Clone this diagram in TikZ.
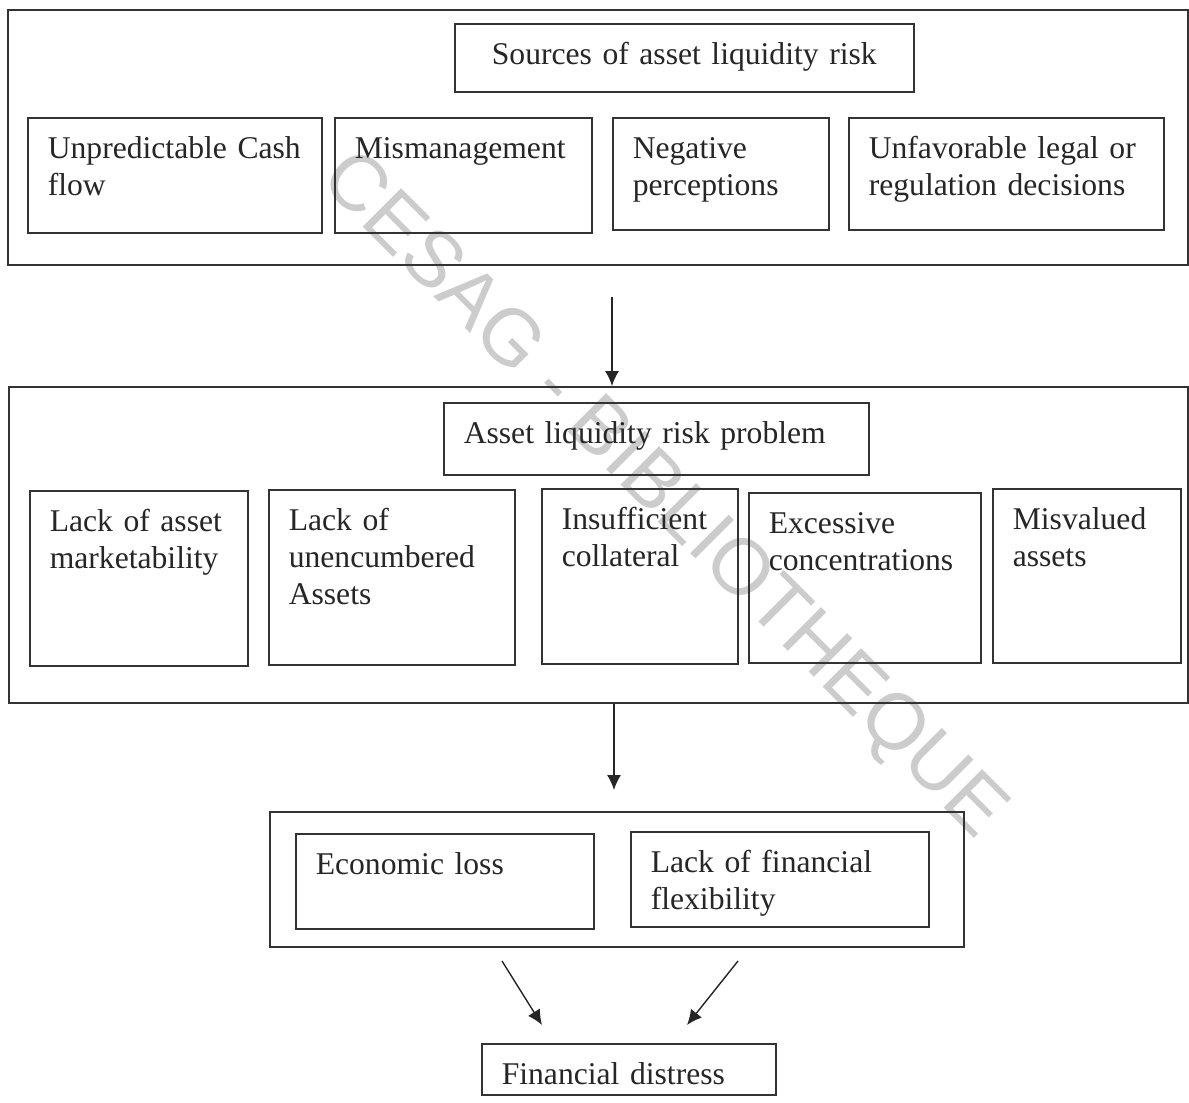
\documentclass[tikz,border=0pt]{standalone}
\usepackage{fontspec}
\setmainfont{Liberation Serif}
\newfontfamily\stampfont{Liberation Sans}
\usetikzlibrary{arrows.meta}

\tikzset{
  block/.style={draw=black!80, line width=0.9pt, anchor=north west, inner sep=0pt},
  cell/.style 2 args={draw=black!80, line width=0.9pt, anchor=north west, align=left,
    inner xsep=0.4cm, inner ysep=0.35cm, text height=0.47cm, text width=#1cm, text depth=#2cm},
  arr/.style={draw=black!85, line width=0.8pt, -{Latex[length=3mm,width=2.8mm]}},
  stamp/.style={text=black!20, rotate=-45, font=\stampfont\fontsize{45}{45}\selectfont}
}

\begin{document}
\begin{tikzpicture}[font=\fontsize{18}{21}\selectfont, text=black!85]
\fill[white] (0,0) rectangle (23.78,-22.06);
\useasboundingbox (0,0) rectangle (23.78,-22.06);

% watermark
\node[stamp] (wm) at (13.24,-9.94) {CESAG - BIBLIOTHEQUE};

% outer frames
\node[block, minimum width=23.60cm, minimum height=5.10cm] (src) at (0.14,-0.18) {};
\node[block, minimum width=23.58cm, minimum height=6.32cm] (prob) at (0.16,-7.72) {};
\node[block, minimum width=13.88cm, minimum height=2.70cm] (eff) at (5.38,-16.22) {};

% titles
\node[cell={8.38}{0.19}, align=center] (srcT) at (9.08,-0.46) {Sources of asset liquidity risk};
\node[cell={7.70}{0.27}] (probT) at (8.86,-8.04) {Asset liquidity risk problem};

\foreach \x/\y/\w/\d/\name/\lab in {
  0.54/-2.34/5.08/1.13/cash/{Unpredictable Cash\\flow},
  6.68/-2.34/4.34/1.13/mgmt/{Mismanagement},
  12.24/-2.34/3.52/1.07/perc/{Negative\\perceptions},
  16.96/-2.34/5.50/1.07/legal/{Unfavorable legal or\\regulation decisions}} {
\node[cell={\w}{\d}] (\name) at (\x,\y) {\lab};
}

\foreach \x/\y/\w/\d/\name/\lab in {
  0.58/-9.80/3.56/2.33/market/{Lack of asset\\marketability},
  5.36/-9.78/4.12/2.33/unenc/{Lack of\\unencumbered\\Assets},
  10.82/-9.76/3.12/2.33/collat/{Insufficient\\collateral},
  14.96/-9.84/3.84/2.23/concen/{Excessive\\concentrations},
  19.84/-9.76/2.96/2.31/misval/{Misvalued\\assets}} {
\node[cell={\w}{\d}] (\name) at (\x,\y) {\lab};
}

\foreach \x/\y/\name/\lab in {5.90/-16.66/loss/{Economic loss}, 12.60/-16.62/flex/{Lack of financial\\flexibility}} {
\node[cell={5.16}{0.73}] (\name) at (\x,\y) {\lab};
}

\node[cell={5.08}{0}, inner ysep=0.2cm, text height=0.62cm] (distress) at (9.62,-20.86) {Financial distress};

% arrows
\coordinate (a1) at (12.24,-5.94);
\coordinate (a2) at (12.28,-15.80);
\draw[arr] (a1) -- (a1 |- prob.north);
\draw[arr] (a2 |- prob.south) -- (a2);

\coordinate (l1) at (10.04,-19.22);
\coordinate (l2) at (10.84,-20.50);
\coordinate (r1) at (14.76,-19.22);
\coordinate (r2) at (13.74,-20.50);
\draw[arr] (l1) -- (l2);
\draw[arr] (r1) -- (r2);

\end{tikzpicture}
\end{document}
